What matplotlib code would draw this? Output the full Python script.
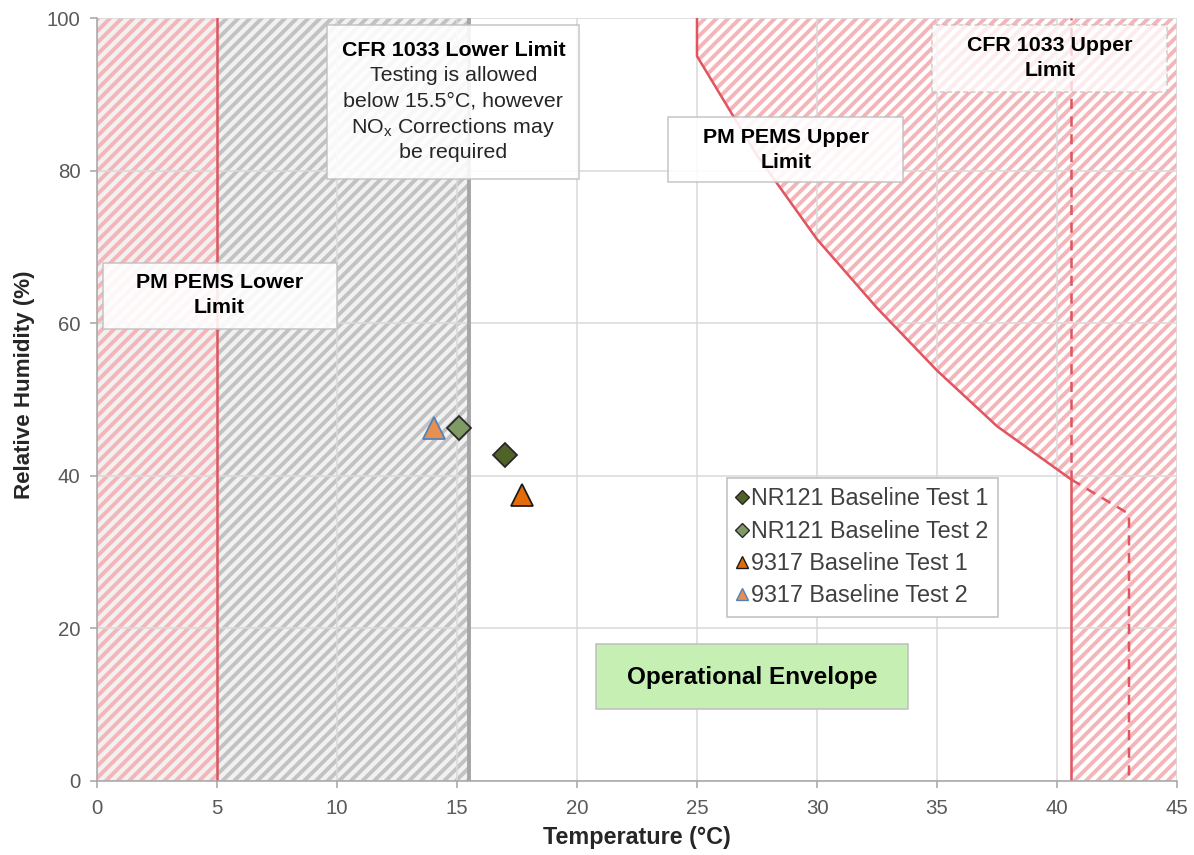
import matplotlib
matplotlib.use('Agg')
import matplotlib.pyplot as plt
from matplotlib.patches import Rectangle, Polygon
from matplotlib.lines import Line2D

plt.rcParams['font.family'] = ['Liberation Sans', 'DejaVu Sans']
plt.rcParams['hatch.linewidth'] = 2.0

# data
pm_upper_t = [25.0, 25.0, 27.5, 30.0, 32.5, 35.0, 37.5, 40.6]
pm_upper_rh = [100.0, 95.0, 82.0, 71.0, 62.0, 53.8, 46.5, 39.5]
cfr_upper_t = [40.6, 43.0, 43.0]
cfr_upper_rh = [39.5, 35.0, 0.0]
pm_lower_t = 5.0
cfr_lower_t = 15.5

series_names = ['NR121 Baseline Test 1', 'NR121 Baseline Test 2',
                '9317 Baseline Test 1', '9317 Baseline Test 2']
series_t = [17.0, 15.1, 17.7, 14.05]
series_rh = [42.7, 46.3, 37.5, 46.3]
series_marker = ['D', 'D', '^', '^']
series_face = ['#4f6228', '#7f9a65', '#e36c09', '#e8904f']
series_edge = ['#262626', '#262626', '#1a1a1a', '#4f81bd']

red = '#e05560'
pink = '#f5b5b8'

fig = plt.figure(figsize=(1194 / 140, 855 / 140), dpi=140)
ax = fig.add_axes([97 / 1194, 74 / 855, 1080 / 1194, 763 / 855])
ax.set_xlim(0, 45)
ax.set_ylim(0, 100)

# shaded regions
ax.add_patch(Rectangle((0, 0), cfr_lower_t, 100, facecolor='#f1f1f1', lw=0, zorder=0.1))
ax.add_patch(Rectangle((0, 0), pm_lower_t, 100, fill=False, hatch='////', edgecolor=pink, lw=0, zorder=0.2))
ax.add_patch(Rectangle((pm_lower_t, 0), cfr_lower_t - pm_lower_t, 100, fill=False, hatch='////',
                       edgecolor='#c2c2c2', lw=0, zorder=0.2))
poly = list(zip(pm_upper_t, pm_upper_rh)) + [(40.6, 0), (45, 0), (45, 100)]
ax.add_patch(Polygon(poly, closed=True, fill=False, hatch='////', edgecolor=pink, lw=0, zorder=0.2))

# grid
ax.set_axisbelow(True)
ax.set_xticks(range(0, 46, 5))
ax.set_yticks(range(0, 101, 20))
ax.grid(True, color='#d9d9d9', lw=0.8)
for s in ['top', 'right']:
    ax.spines[s].set_visible(False)
for s in ['left', 'bottom']:
    ax.spines[s].set_color('#a6a6a6')
ax.tick_params(colors='#a6a6a6', labelcolor='#595959', labelsize=10.5, length=3.5)
ax.tick_params(axis='y', pad=5)
ax.tick_params(axis='x', pad=6)

# limit lines
ax.axvline(pm_lower_t, color=red, lw=1.3, zorder=2)
ax.axvline(cfr_lower_t, color='#a6a6a6', lw=2.0, zorder=2)
ax.plot(pm_upper_t, pm_upper_rh, color=red, lw=1.3, zorder=2)
ax.plot([40.6, 40.6], [0, 39.5], color=red, lw=1.3, zorder=2)
ax.plot([40.6, 40.6], [39.5, 100], color=red, lw=1.3, ls=(0, (4, 3)), zorder=2)
ax.plot(cfr_upper_t, cfr_upper_rh, color=red, lw=1.3, ls=(0, (4, 3)), zorder=2)

# annotation boxes
def box(x0, x1, y0, y1, fc='white', ls='-', alpha=0.88):
    ax.add_patch(Rectangle((x0, y0), x1 - x0, y1 - y0, facecolor=fc, edgecolor='#bfbfbf',
                           lw=0.8, ls=ls, alpha=alpha, zorder=3))

box(0.25, 10.0, 59.2, 67.9)
ax.text(5.1, 63.7, 'PM PEMS Lower\nLimit', ha='center', va='center', fontsize=11,
        fontweight='bold', linespacing=1.4, zorder=4)

box(9.6, 20.1, 78.9, 99.1)
ax.text(14.85, 95.8, 'CFR 1033 Lower Limit', ha='center', va='center', fontsize=11,
        fontweight='bold', zorder=4)
for yy, line in zip([92.4, 89.1, 85.7, 82.4],
                    ['Testing is allowed', 'below 15.5\u00b0C, however',
                     'NO$_\\mathregular{x}$ Corrections may', 'be required']):
    ax.text(14.85, yy, line, ha='center', va='center', fontsize=11, color='#262626', zorder=4)

box(23.8, 33.6, 78.5, 87.0)
ax.text(28.7, 82.7, 'PM PEMS Upper\nLimit', ha='center', va='center', fontsize=11,
        fontweight='bold', linespacing=1.4, zorder=4)

box(34.8, 44.6, 90.3, 99.1, ls=(0, (3, 2)), alpha=0.75)
ax.text(39.7, 94.7, 'CFR 1033 Upper\nLimit', ha='center', va='center', fontsize=11,
        fontweight='bold', linespacing=1.4, zorder=4)

box(20.8, 33.8, 9.4, 18.0, fc='#c6efb4', alpha=1.0)
ax.text(27.3, 13.6, 'Operational Envelope', ha='center', va='center', fontsize=12.5,
        fontweight='bold', zorder=4)

# data points
handles = []
for name, t, rh, m, fc, ec in zip(series_names, series_t, series_rh, series_marker,
                                  series_face, series_edge):
    ms = 8.5 if m == 'D' else 11.5
    ax.plot([t], [rh], ls='none', marker=m, markersize=ms, markerfacecolor=fc,
            markeredgecolor=ec, markeredgewidth=0.9, zorder=5)
    handles.append(Line2D([], [], ls='none', marker=m, markersize=5 if m == 'D' else 6.5,
                          markerfacecolor=fc, markeredgecolor=ec, markeredgewidth=0.7, label=name))

leg = ax.legend(handles=handles, loc='upper left', bbox_to_anchor=(0.583, 0.397),
                borderaxespad=0, fontsize=12, frameon=True, fancybox=False,
                handlelength=0.5, handletextpad=0.15, labelspacing=0.4,
                borderpad=0.4, framealpha=1)
leg.get_frame().set_edgecolor('#bfbfbf')
leg.get_frame().set_linewidth(0.8)
leg.set_zorder(6)
for t in leg.get_texts():
    t.set_color('#404040')

ax.set_xlabel('Temperature (\u00b0C)', fontsize=12, fontweight='bold', color='#262626', labelpad=4)
ax.set_ylabel('Relative Humidity (%)', fontsize=11.5, fontweight='bold', color='#262626')
ax.yaxis.set_label_coords(-0.057, 0.519)

fig.savefig('out.png', dpi=140)
